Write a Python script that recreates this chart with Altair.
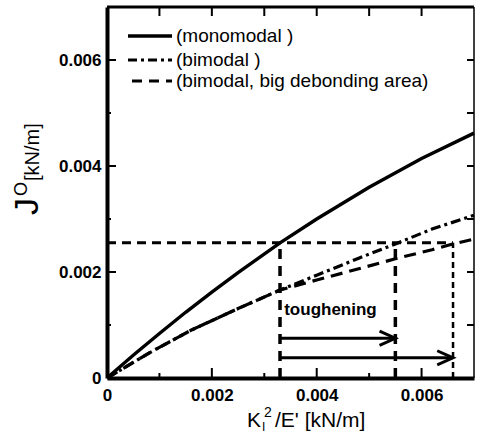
import altair as alt
import pandas as pd

# ---- data ----
mono_x = [0, 0.0005, 0.001, 0.0015, 0.002, 0.0025, 0.0033, 0.004, 0.005, 0.006, 0.007]
mono_y = [0, 0.00043, 0.00084, 0.00124, 0.00162, 0.00199, 0.00255, 0.0030, 0.0036, 0.00414, 0.00462]

bi_x = [0, 0.0008, 0.0016, 0.0025, 0.0033, 0.004, 0.0048, 0.0055, 0.0062, 0.007]
bi_y = [0, 0.00047, 0.0009, 0.00131, 0.00166, 0.00194, 0.00226, 0.00253, 0.00281, 0.00307]

big_x = [0, 0.0008, 0.0016, 0.0025, 0.0033, 0.004, 0.0048, 0.0055, 0.0062, 0.0066, 0.007]
big_y = [0, 0.00047, 0.0009, 0.00131, 0.00166, 0.00185, 0.00206, 0.00225, 0.00242, 0.00253, 0.00262]

level_y = 0.00255          # horizontal guide (J of monomodal at K^2/E' = 0.0033)
level_x_end = 0.0066
vert_thick_x = [0.0033, 0.0055]
vert_thin_x = [0.0066]

arrow_start = 0.0033
arrow_tips = [0.0055, 0.0066]
arrow_y = [0.00075, 0.00038]

x_major = [0.002, 0.004, 0.006]
x_minor = [0.001, 0.003, 0.005]
y_major = [0.002, 0.004, 0.006]
y_minor = [0.001, 0.003, 0.005]
all_ticks = [0.001, 0.002, 0.003, 0.004, 0.005, 0.006]
label_values = [0, 0.002, 0.004, 0.006]

legend_labels = ["(monomodal )", "(bimodal )", "(bimodal, big debonding area)"]
annot_text = "toughening"
annot_pos = (0.00338, 0.00119)

W, H = 367, 371
FONT = "Liberation Sans"

xscale = alt.Scale(domain=[0, 0.007], nice=False, zero=False)
yscale = alt.Scale(domain=[0, 0.007], nice=False, zero=False)
lab_expr = "datum.value == 0 ? '0' : format(datum.value, '.3f')"
xaxis = alt.Axis(values=label_values, labelExpr=lab_expr, title=None, ticks=False,
                 domainWidth=4, domainColor="black", labelFont=FONT, labelFontSize=17,
                 labelFontWeight="bold", labelColor="black", labelPadding=9, grid=False,
                 labelFlush=False, labelOverlap=False, labelBound=False)
yaxis = alt.Axis(values=label_values, labelExpr=lab_expr, title=None, ticks=False,
                 domainWidth=4, domainColor="black", labelFont=FONT, labelFontSize=17,
                 labelFontWeight="bold", labelColor="black", labelPadding=6, grid=False,
                 labelFlush=False, labelOverlap=False, labelBound=False)


def X(f):
    return alt.X(f, type="quantitative", scale=xscale, axis=xaxis)


def Y(f):
    return alt.Y(f, type="quantitative", scale=yscale, axis=yaxis)


def curve(xs, ys, **kw):
    df = pd.DataFrame({"x": xs, "y": ys})
    return alt.Chart(df).mark_line(color="black", **kw).encode(x=X("x"), y=Y("y"))


mono = curve(mono_x, mono_y, strokeWidth=3.4)
bi = curve(bi_x, bi_y, strokeWidth=3.2, strokeDash=[10, 4, 3, 4])
big = curve(big_x, big_y, strokeWidth=3.2, strokeDash=[12, 7])

hline = alt.Chart(pd.DataFrame({"x": [0], "x2": [level_x_end], "y": [level_y]})).mark_rule(
    color="black", strokeWidth=3, strokeDash=[9, 6]).encode(x=X("x"), x2="x2", y=Y("y"))

vthick = alt.Chart(pd.DataFrame({"x": vert_thick_x, "y": [0] * len(vert_thick_x),
                                 "y2": [level_y] * len(vert_thick_x)})).mark_rule(
    color="black", strokeWidth=3.5, strokeDash=[10, 7]).encode(x=X("x"), y=Y("y"), y2="y2")

vthin = alt.Chart(pd.DataFrame({"x": vert_thin_x, "y": [0], "y2": [level_y]})).mark_rule(
    color="black", strokeWidth=2.5, strokeDash=[6, 4]).encode(x=X("x"), y=Y("y"), y2="y2")

arr_df = pd.DataFrame({"x": [arrow_start] * 2, "x2": arrow_tips, "y": arrow_y})
arrows = alt.Chart(arr_df).mark_rule(color="black", strokeWidth=3).encode(
    x=X("x"), x2="x2", y=Y("y"))
heads = alt.Chart(arr_df).mark_point(
    shape="M-1,-0.45L0,0L-1,0.45", size=1000, filled=False, stroke="black",
    strokeWidth=3, opacity=1, strokeJoin="miter").encode(x=X("x2"), y=Y("y"))

annot = alt.Chart(pd.DataFrame({"x": [annot_pos[0]], "y": [annot_pos[1]], "t": [annot_text]})).mark_text(
    font=FONT, fontSize=17, fontWeight="bold", align="left", baseline="alphabetic",
    color="black").encode(x=X("x"), y=Y("y"), text="t")

# ---- ticks (inward) ----
def xticks(vals, length, top=False):
    df = pd.DataFrame({"x": vals})
    if top:
        ys = dict(y=alt.value(0), y2=alt.value(length))
    else:
        ys = dict(y=alt.value(H), y2=alt.value(H - length))
    return alt.Chart(df).mark_rule(color="black", strokeWidth=2).encode(x=X("x"), **ys)


def yticks(vals, length, right=False):
    df = pd.DataFrame({"y": vals})
    if right:
        xs = dict(x=alt.value(W), x2=alt.value(W - length))
    else:
        xs = dict(x=alt.value(0), x2=alt.value(length))
    return alt.Chart(df).mark_rule(color="black", strokeWidth=2).encode(y=Y("y"), **xs)


ticks = [xticks(x_major, 10), xticks(x_minor, 5), xticks(all_ticks, 9, top=True),
         yticks(y_major, 9), yticks(y_minor, 4), yticks(all_ticks, 7, right=True)]

base_df = pd.DataFrame({"a": [0]})
top_frame = alt.Chart(base_df).mark_rule(color="black", strokeWidth=3).encode(
    x=alt.value(0), x2=alt.value(W), y=alt.value(0))
right_frame = alt.Chart(base_df).mark_rule(color="black", strokeWidth=1.5).encode(
    x=alt.value(W), y=alt.value(0), y2=alt.value(H))

# ---- legend ----
leg_rows = [29, 53, 74]
leg = []
leg.append(alt.Chart(base_df).mark_rule(color="black", strokeWidth=3.4).encode(
    x=alt.value(21), x2=alt.value(65), y=alt.value(leg_rows[0])))
leg.append(alt.Chart(base_df).mark_rule(color="black", strokeWidth=3, strokeDash=[9, 4, 3, 4]).encode(
    x=alt.value(21), x2=alt.value(65), y=alt.value(leg_rows[1])))
leg.append(alt.Chart(base_df).mark_rule(color="black", strokeWidth=3, strokeDash=[10, 7]).encode(
    x=alt.value(25), x2=alt.value(65), y=alt.value(leg_rows[2])))
for t, r in zip(legend_labels, leg_rows):
    leg.append(alt.Chart(pd.DataFrame({"t": [t]})).mark_text(
        font=FONT, fontSize=19, align="left", baseline="middle", color="black").encode(
        x=alt.value(69), y=alt.value(r), text="t"))

# ---- axis titles composed with sub/superscripts ----
def txt(s, x, y, size, angle=0, weight="normal"):
    kw = dict(font=FONT, fontSize=size, align="left", baseline="alphabetic",
              color="black", fontWeight=weight)
    if angle:
        kw["angle"] = angle
    return alt.Chart(pd.DataFrame({"t": [s]})).mark_text(**kw).encode(
        x=alt.value(x), y=alt.value(y), text="t")


titles = [
    txt("K", 140, 420, 21),
    txt("I", 155, 424, 12),
    txt("2", 157, 410, 14),
    txt("/E' [kN/m]", 168, 420, 21),
    txt("J", -69, 208, 34, angle=270),
    txt("O", -80, 189, 18, angle=270),
    txt("[kN/m]", -68, 174, 20, angle=270),
]

chart = alt.layer(
    mono, bi, big, hline, vthick, vthin, arrows, heads, annot,
    *ticks, top_frame, right_frame, *leg, *titles
).properties(
    width=W, height=H,
    autosize=alt.AutoSizeParams(type="none"),
    padding={"left": 107, "top": 7, "right": 4, "bottom": 60},
    background="white",
).configure_view(stroke=None)

chart.save("out.html", embed_options={"renderer": "svg", "actions": False})
